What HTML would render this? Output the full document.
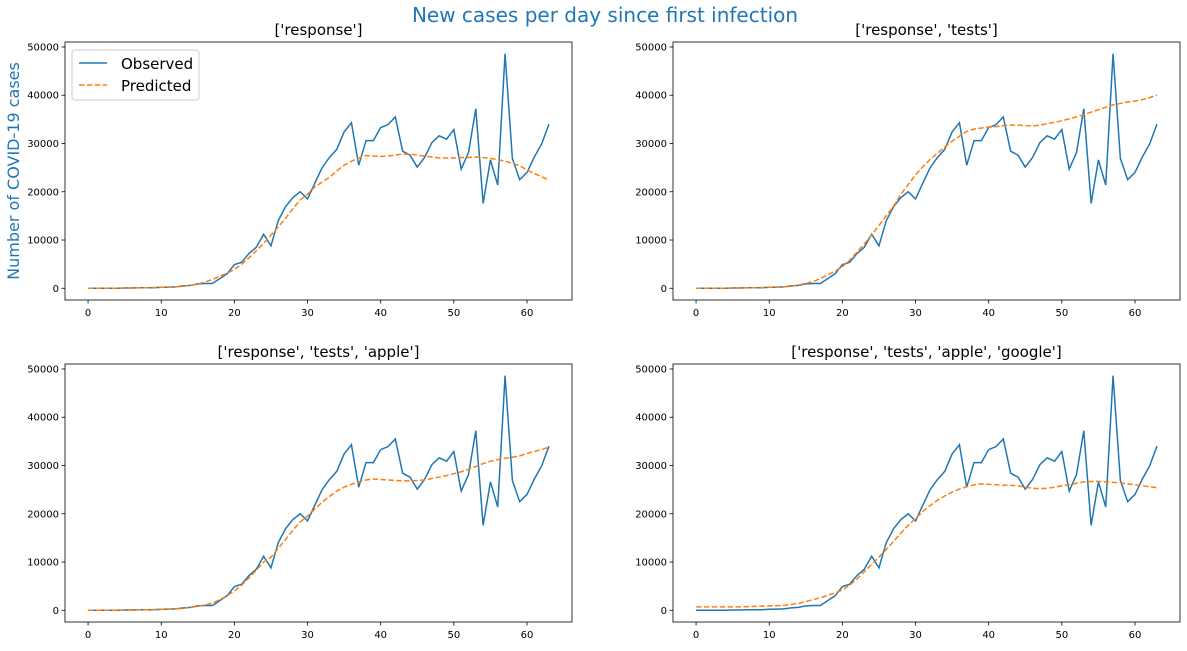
<!DOCTYPE html>
<html><head><meta charset="utf-8"><style>
body{margin:0;background:#fff;width:1187px;height:646px;overflow:hidden;font-family:"Liberation Sans","DejaVu Sans",sans-serif}
svg text{font-family:"DejaVu Sans","Liberation Sans",sans-serif}
</style></head><body>
<svg id="fig" width="1187" height="646" viewBox="0 0 1187 646">
<text x="605" y="22" text-anchor="middle" font-size="20" fill="#1f77b4">New cases per day since first infection</text>
<text transform="translate(19,171) rotate(-90)" text-anchor="middle" font-size="16" fill="#1f77b4">Number of COVID-19 cases</text>
</svg>
<script>
const days = Array.from({length:64},(_,i)=>i);
const observed = [0,0,0,0,0,50,50,100,100,100,200,250,300,500,600,900,1000,1000,2000,3000,4900,5400,7200,8500,11200,8800,14000,16900,18800,20000,18500,21800,25000,27100,28800,32400,34300,25500,30600,30600,33300,33900,35500,28400,27600,25100,27100,30200,31600,30900,32900,24700,28100,37200,17600,26600,21400,48600,26900,22500,24000,27200,29900,34000];
const predResponse = [0,0,0,0,0,50,50,100,100,150,200,250,300,400,600,900,1300,1800,2500,3100,3900,5000,6300,7800,9300,11000,12700,14500,16500,18300,19500,21000,22000,23000,24300,25500,26300,27000,27500,27400,27300,27400,27600,27800,27800,27600,27400,27200,27000,27000,27000,27100,27100,27200,27100,26900,26700,26300,25900,25400,24500,23800,23100,22400];
const predTests = [0,0,0,0,0,50,50,100,100,150,200,250,300,400,700,1000,1400,2000,2800,3500,4500,5800,7500,9200,11000,13000,15000,17000,19500,21500,23500,25200,26700,28000,29300,30500,31500,32500,33000,33200,33400,33500,33700,33800,33800,33700,33600,33800,34100,34400,34700,35100,35500,36000,36500,37000,37500,38000,38300,38600,38800,39100,39500,40000];
const predApple = [0,0,0,0,0,50,50,100,100,150,200,250,300,400,600,800,1100,1500,2200,3000,4000,5200,6700,8300,10000,11000,12800,14700,16600,18300,19500,21000,22400,23600,24700,25500,26100,26600,27000,27200,27100,27000,26900,26800,26800,26900,27000,27300,27600,27900,28300,28700,29200,29800,30400,30900,31200,31500,31700,32000,32500,32900,33300,33800];
const predGoogle = [700,700,700,700,700,700,700,750,800,850,900,950,1000,1200,1400,1800,2200,2600,3100,3600,4200,5200,6500,8000,9500,11000,12600,14300,16000,17600,19000,20500,21700,22800,23700,24500,25100,25600,26000,26200,26100,26000,25900,25900,25800,25500,25300,25200,25300,25500,25800,26000,26300,26600,26700,26700,26600,26500,26400,26200,26000,25800,25600,25400];
const yTicks = [0,10000,20000,30000,40000,50000];
const xTicks = [0,10,20,30,40,50,60];
const panels = [
 {title:"['response']", pred:predResponse, l:65, t:42, legend:true, nm:'panel-response'},
 {title:"['response', 'tests']", pred:predTests, l:673, t:42, legend:false, nm:'panel-response-tests'},
 {title:"['response', 'tests', 'apple']", pred:predApple, l:65, t:364, legend:false, nm:'panel-response-tests-apple'},
 {title:"['response', 'tests', 'apple', 'google']", pred:predGoogle, l:673, t:364, legend:false, nm:'panel-response-tests-apple-google'}
];
const NS='http://www.w3.org/2000/svg';
const fig=document.getElementById('fig');
function mk(tag,attrs,parent){const e=document.createElementNS(NS,tag);for(const k in attrs)e.setAttribute(k,attrs[k]);parent.appendChild(e);return e;}
const W=507,H=258;
panels.forEach(p=>{
 const g=mk('g',{},fig);
 
 
 const all=observed.concat(p.pred);
 const mn=Math.min(...all),mx=Math.max(...all),pad=(mx-mn)*0.05;
 const y0=mn-pad,y1=mx+pad;
 const x0=-3.15,x1=66.15;
 const sx=v=>p.l+(v-x0)/(x1-x0)*W;
 const sy=v=>p.t+H-(v-y0)/(y1-y0)*H;
 const ti=mk('text',{x:p.l+W/2,y:p.t-7,'text-anchor':'middle','font-size':'15',fill:'#000'},g);
 ti.textContent=p.title;
 
 
 yTicks.forEach(v=>{const y=sy(v);
  mk('line',{x1:p.l-3.5,x2:p.l,y1:y,y2:y,stroke:'#000','stroke-width':0.8},g);
  const t=mk('text',{x:p.l-6,y:y+3.5,'text-anchor':'end','font-size':'10',fill:'#000'},g);t.textContent=v;
  
  
 });
 xTicks.forEach(v=>{const x=sx(v);
  mk('line',{x1:x,x2:x,y1:p.t+H,y2:p.t+H+3.5,stroke:'#000','stroke-width':0.8},g);
  const t=mk('text',{x:x,y:p.t+H+16,'text-anchor':'middle','font-size':'10',fill:'#000'},g);t.textContent=v;
  
  
 });
 const ob=mk('polyline',{points:days.map(d=>sx(d)+','+sy(observed[d])).join(' '),fill:'none',stroke:'#1f77b4','stroke-width':1.5},g);
 
 
 const pr=mk('polyline',{points:days.map(d=>sx(d)+','+sy(p.pred[d])).join(' '),fill:'none',stroke:'#ff7f0e','stroke-width':1.5,'stroke-dasharray':'5.5,2.4'},g);
 
 
 mk('rect',{x:p.l,y:p.t,width:W,height:H,fill:'none',stroke:'#000','stroke-width':0.8},g);
 if(p.legend){
  const lg=mk('g',{},g);
  
  
  mk('rect',{x:p.l+7,y:p.t+8,width:127,height:50,rx:3,fill:'#fff',stroke:'#ccc','stroke-width':1},lg);
  mk('line',{x1:p.l+14,x2:p.l+42,y1:p.t+21,y2:p.t+21,stroke:'#1f77b4','stroke-width':1.5},lg);
  const a=mk('text',{x:p.l+56,y:p.t+27,'font-size':'15',fill:'#000'},lg);a.textContent='Observed';
  
  
  mk('line',{x1:p.l+14,x2:p.l+42,y1:p.t+43,y2:p.t+43,stroke:'#ff7f0e','stroke-width':1.5,'stroke-dasharray':'5.5,2.4'},lg);
  const b=mk('text',{x:p.l+56,y:p.t+49,'font-size':'15',fill:'#000'},lg);b.textContent='Predicted';
  
  
 }
});
</script>
</body></html>
